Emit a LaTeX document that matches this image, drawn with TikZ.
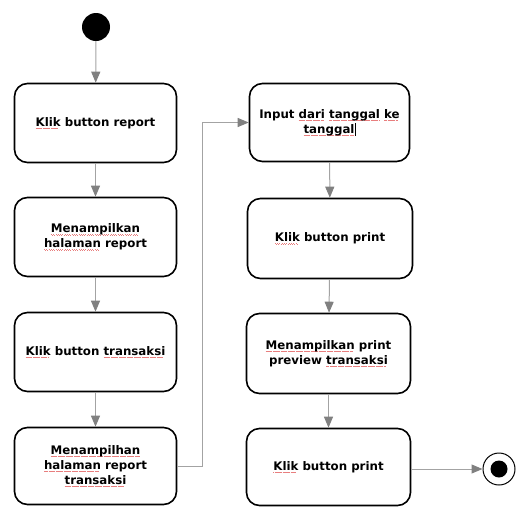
\documentclass[tikz,border=0pt]{standalone}
\usepackage{fontspec}
\setmainfont{DejaVu Sans}
\usetikzlibrary{arrows.meta}

\definecolor{flow}{HTML}{A3A3A3}
\definecolor{tipgray}{HTML}{808080}
\definecolor{spellred}{HTML}{E87E7E}

% red wavy spell-check underline under one word
\newsavebox\spellbox
\newcommand\spell[1]{\leavevmode\sbox\spellbox{#1}%
  \rlap{\color{spellred}\hbox to\wd\spellbox{\leaders\hbox{\rule[-2.3pt]{0.7pt}{0.45pt}\kern0.45pt\rule[-2.9pt]{0.7pt}{0.45pt}\kern0.45pt}\hfill}}%
  \usebox\spellbox}

\begin{document}
\begin{tikzpicture}[x=1pt,y=-1pt,
  action/.style={draw=black, line width=1.6pt, rounded corners=13pt, fill=white,
    align=center, inner sep=2pt,
    font=\bfseries\fontsize{11.8}{15}\selectfont},
  flowline/.style={draw=flow, line width=1pt,
    -{Triangle[length=11pt,width=9pt,fill=tipgray,color=tipgray]}}
]
\useasboundingbox (0,0) rectangle (517,507);

% initial state
\node[circle, fill=black, minimum size=28pt, inner sep=0pt] (start) at (96,27) {};

% left column
\node[action, minimum width=162pt, minimum height=79pt] (a1) at (95.5,123)
  {\spell{Klik} button report};
\node[action, minimum width=162pt, minimum height=79pt] (a2) at (95.5,237)
  {\spell{Menampilkan}\\ \spell{halaman} report};
\node[action, minimum width=162pt, minimum height=79pt] (a3) at (95.5,352)
  {\spell{Klik} button \spell{transaksi}};
\node[action, minimum width=162pt, minimum height=77pt] (a4) at (95.5,466)
  {\spell{Menampilhan}\\ \spell{halaman} report\\ \spell{transaksi}};

% right column
\node[action, minimum width=160pt, minimum height=78pt] (r1) at (329.5,122.5)
  {Input \spell{dari} \spell{tanggal} \spell{ke}\\ \spell{tanggal}\rule[-2.5pt]{0.9pt}{13pt}};
\node[action, minimum width=165pt, minimum height=80pt] (r2) at (330,238.5)
  {\spell{Klik} button print};
\node[action, minimum width=164pt, minimum height=80pt] (r3) at (328.5,353.5)
  {\spell{Menampilkan} print\\ preview \spell{transaksi}};
\node[action, minimum width=164pt, minimum height=77pt] (r4) at (328.5,467)
  {\spell{Klik} button print};

% final state
\node[circle, draw=black, line width=1pt, fill=white, minimum size=32pt, inner sep=0pt] (stop) at (499,469) {};
\node[circle, fill=black, minimum size=17pt, inner sep=0pt] (stopcore) at (stop.center) {};

% control flow
\draw[flowline] (start) -- (a1);
\draw[flowline] (a1) -- (a2);
\draw[flowline] (a2) -- (a3);
\draw[flowline] (a3) -- (a4);
\draw[flowline] (a4.east) -- ++(25,0) |- (r1.west);
\draw[flowline] (r1) -- (r2);
\draw[flowline] (r2) -- (r3);
\draw[flowline] (r3) -- (r4);
\draw[flowline] (r4.east |- stop.west) -- (stop.west);
\end{tikzpicture}
\end{document}
